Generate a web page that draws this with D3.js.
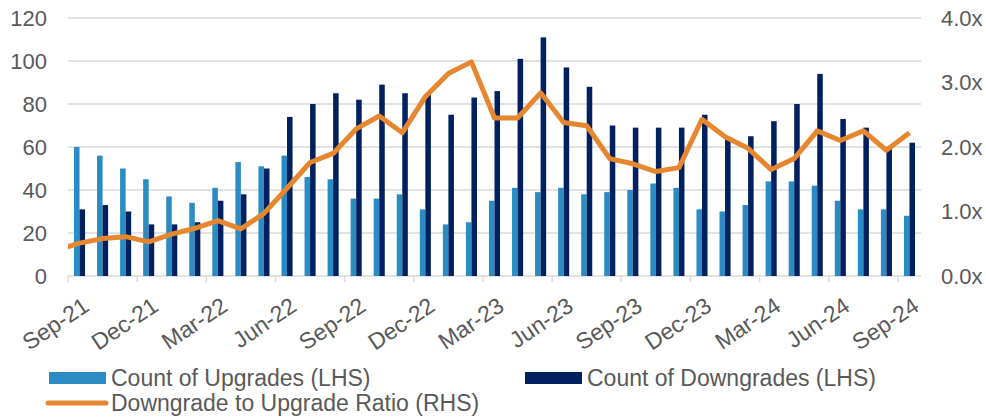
<!DOCTYPE html>
<html>
<head>
<meta charset="utf-8">
<title>Upgrades vs Downgrades</title>
<style>
  html, body { margin: 0; padding: 0; background: #fff; }
  svg { display: block; }
  text {
    font-family: "Liberation Sans", Arial, Helvetica, sans-serif;
    fill: #595959;
  }
  .grid line { stroke: #d9d9d9; stroke-width: 1.5; }
</style>
</head>
<body>
<svg id="chart"></svg>
<script src="https://cdn.jsdelivr.net/npm/d3@7"></script>
<script>
// months shown on the category axis
var months = ["Sep-21","Oct-21","Nov-21","Dec-21","Jan-22","Feb-22","Mar-22","Apr-22","May-22",
              "Jun-22","Jul-22","Aug-22","Sep-22","Oct-22","Nov-22","Dec-22","Jan-23","Feb-23",
              "Mar-23","Apr-23","May-23","Jun-23","Jul-23","Aug-23","Sep-23","Oct-23","Nov-23",
              "Dec-23","Jan-24","Feb-24","Mar-24","Apr-24","May-24","Jun-24","Jul-24","Aug-24","Sep-24"];

var upgrades   = [60,56,50,45,37,34,41,53,51,56,46,45,36,36,38,31,24,25,35,41,39,41,38,39,40,43,41,31,30,33,44,44,42,35,31,31,28];
var downgrades = [31,33,30,24,24,25,35,38,50,74,80,85,82,89,85,85,75,83,86,101,111,97,88,70,69,69,69,75,64,65,72,80,94,73,69,60,62];
var ratio      = [0.51,0.58,0.61,0.53,0.65,0.74,0.86,0.73,0.97,1.36,1.76,1.90,2.28,2.48,2.22,2.78,3.14,3.32,
                  2.45,2.45,2.84,2.38,2.33,1.82,1.74,1.62,1.68,2.43,2.16,1.98,1.65,1.82,2.25,2.10,2.25,1.95,2.22];
// month before Sep-21 (off the axis, the line runs in from the left edge)
var ratioPrior = 0.40;

var leftTicks  = [0,20,40,60,80,100,120];
var rightTicks = [0,1,2,3,4];
var labelEvery = 3;

var legendItems = [
  {name: "Count of Upgrades (LHS)", color: "#2b8cc4", type: "bar"},
  {name: "Count of Downgrades (LHS)", color: "#002060", type: "bar"},
  {name: "Downgrade to Upgrade Ratio (RHS)", color: "#e6862f", type: "line"}
];

var width = 986, height = 417;
var margin = {top: 18, right: 65, bottom: 141, left: 68};
var plotW = width - margin.left - margin.right;
var plotH = height - margin.top - margin.bottom;

var svg = d3.select("#chart").attr("width", width).attr("height", height);
var g = svg.append("g").attr("transform", "translate(" + margin.left + "," + margin.top + ")");

var x = d3.scaleBand().domain(months).range([0, plotW]).paddingInner(0.52).paddingOuter(0.26);
var x1 = d3.scaleBand().domain(["up","down"]).range([0, x.bandwidth()]);
var y = d3.scaleLinear().domain([0, 120]).range([plotH, 0]);
var y2 = d3.scaleLinear().domain([0, 4]).range([plotH, 0]);

// gridlines
g.append("g").attr("class", "grid")
  .selectAll("line").data(leftTicks).enter().append("line")
  .attr("x1", 0).attr("x2", plotW)
  .attr("y1", function(d) { return y(d); }).attr("y2", function(d) { return y(d); });

// category tick marks at group edges
var edge = function(m) { return x(m) - (x.step() - x.bandwidth()) / 2; };
var labelled = months.filter(function(d, i) { return i % labelEvery === 0; });
g.append("g").attr("class", "grid")
  .selectAll("line").data(labelled).enter().append("line")
  .attr("x1", edge).attr("x2", edge)
  .attr("y1", plotH).attr("y2", plotH + 6);

// bars
var rows = months.map(function(m, i) { return {m: m, up: upgrades[i], down: downgrades[i]}; });
var grp = g.append("g").selectAll("g").data(rows).enter().append("g")
  .attr("transform", function(d) { return "translate(" + x(d.m) + ",0)"; });
grp.append("rect")
  .attr("x", x1("up")).attr("width", x1.bandwidth())
  .attr("y", function(d) { return y(d.up); })
  .attr("height", function(d) { return plotH - y(d.up); })
  .attr("fill", legendItems[0].color);
grp.append("rect")
  .attr("x", x1("down")).attr("width", x1.bandwidth())
  .attr("y", function(d) { return y(d.down); })
  .attr("height", function(d) { return plotH - y(d.down); })
  .attr("fill", legendItems[1].color);

// ratio line, clipped to the plot area
svg.append("clipPath").attr("id", "plotclip").append("rect")
  .attr("x", 0).attr("y", -10).attr("width", plotW).attr("height", plotH + 20);
var cx = function(i) { return x(months[0]) + x.bandwidth() / 2 + i * x.step(); };
var pts = [[cx(-1), y2(ratioPrior)]].concat(ratio.map(function(r, i) { return [cx(i), y2(r)]; }));
g.append("path")
  .attr("clip-path", "url(#plotclip)")
  .attr("d", d3.line()(pts))
  .attr("fill", "none")
  .attr("stroke", legendItems[2].color)
  .attr("stroke-width", 5)
  .attr("stroke-linejoin", "round");

// left axis
var yAxis = g.append("g").call(d3.axisLeft(y).tickValues(leftTicks).tickSize(0).tickPadding(21));
yAxis.select(".domain").remove();
yAxis.selectAll("text").style("font-size", "22px").attr("fill", "#595959");

// right axis
var y2Axis = g.append("g").attr("transform", "translate(" + plotW + ",0)")
  .call(d3.axisRight(y2).tickValues(rightTicks).tickSize(0).tickPadding(20)
    .tickFormat(function(d) { return d3.format(".1f")(d) + "x"; }));
y2Axis.select(".domain").remove();
y2Axis.selectAll("text").style("font-size", "22px").attr("fill", "#595959");

// category labels
g.append("g").selectAll("text").data(labelled).enter().append("text")
  .attr("transform", function(d) {
    return "translate(" + (x(d) + x.bandwidth() / 2 + 2) + "," + (plotH + 20) + ") rotate(-34)";
  })
  .attr("text-anchor", "end")
  .attr("dy", "0.71em")
  .style("font-size", "23px")
  .text(function(d) { return d; });

// legend
var legendPos = [[49, 378], [525, 378], [49, 403]];
var lg = svg.append("g").selectAll("g").data(legendItems).enter().append("g")
  .attr("transform", function(d, i) { return "translate(" + legendPos[i][0] + "," + legendPos[i][1] + ")"; });
lg.filter(function(d) { return d.type === "bar"; }).append("rect")
  .attr("x", 0).attr("y", -6).attr("width", 57).attr("height", 12)
  .attr("fill", function(d) { return d.color; });
lg.filter(function(d) { return d.type === "line"; }).append("line")
  .attr("x1", -1).attr("x2", 57).attr("y1", 0).attr("y2", 0)
  .attr("stroke", function(d) { return d.color; })
  .attr("stroke-width", 5).attr("stroke-linecap", "round");
lg.append("text")
  .attr("x", 62).attr("dy", "0.35em")
  .style("font-size", "23px")
  .text(function(d) { return d.name; });
</script>
</body>
</html>
